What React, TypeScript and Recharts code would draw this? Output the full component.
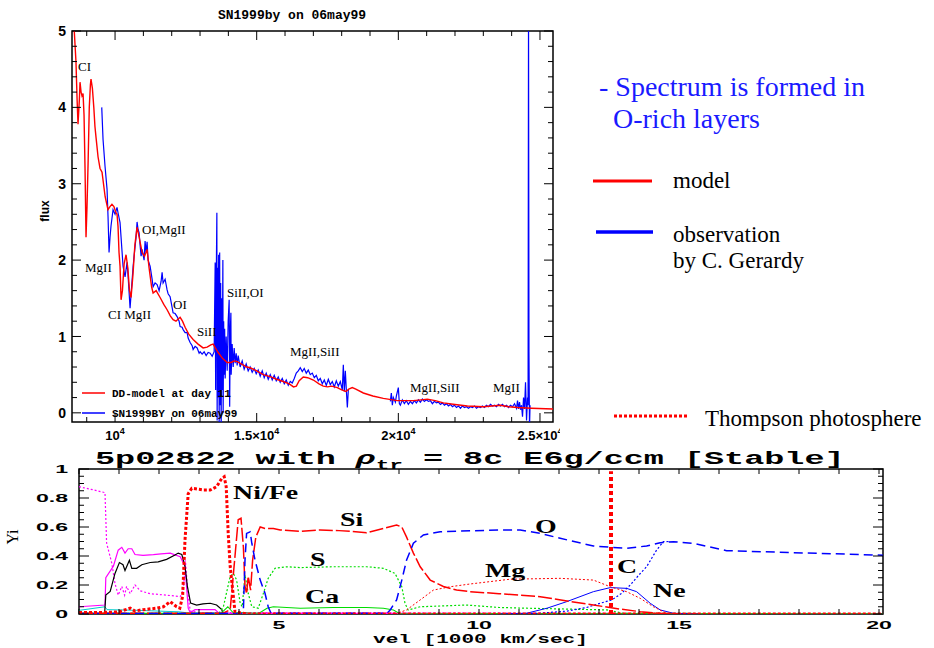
import React from "react";
import { LineChart, Line, XAxis, YAxis, ReferenceArea, ReferenceLine } from "recharts";

type Pt = [number, number];

// ---------- spectrum panel: wavelength [A] vs flux ----------
const WAVE_TICKS = [9000, 10000, 11000, 12000, 13000, 14000, 15000, 16000, 17000, 18000, 19000, 20000, 21000, 22000, 23000, 24000, 25000];
const WAVE_LABELS: Record<number, string> = { 10000: "10", 15000: "1.5×10", 20000: "2×10", 25000: "2.5×10" };
const FLUX_TICKS = [0, 0.2, 0.4, 0.6, 0.8, 1, 1.2, 1.4, 1.6, 1.8, 2, 2.2, 2.4, 2.6, 2.8, 3, 3.2, 3.4, 3.6, 3.8, 4, 4.2, 4.4, 4.6, 4.8, 5];
const FLUX_LABELS = [0, 1, 2, 3, 4, 5];
const WAVE_RANGE: Pt = [8480, 25460];
const FLUX_RANGE: Pt = [-0.12, 5];

// DD-model at day 11
const MODEL_SPEC: Pt[] = [
  [8480, 5.3], [8560, 5.0], [8620, 4.6], [8660, 4.1], [8692, 3.78], [8740, 4.1], [8763, 4.33], [8800, 4.2],
  [8833, 4.15], [8870, 4.18], [8905, 3.9], [8940, 3.2], [8975, 2.3], [9010, 2.7], [9050, 3.3], [9090, 4.0],
  [9130, 4.3], [9151, 4.37], [9200, 4.25], [9250, 4.0], [9290, 3.75], [9330, 3.6], [9400, 3.35], [9470, 3.2],
  [9540, 3.15], [9650, 2.83], [9750, 2.66], [9820, 2.7], [9890, 2.73], [9960, 2.7], [10030, 2.62], [10070, 2.6],
  [10105, 2.44], [10140, 2.1], [10176, 1.92], [10212, 1.48], [10260, 1.6], [10320, 1.95], [10388, 2.07], [10450, 1.9],
  [10510, 1.6], [10565, 1.51], [10630, 1.8], [10700, 2.2], [10777, 2.43], [10850, 2.3], [10954, 2.1], [11040, 2.05],
  [11131, 2.14], [11200, 1.9], [11290, 1.65], [11343, 1.57], [11450, 1.6], [11590, 1.51], [11720, 1.42], [11837, 1.35],
  [11950, 1.27], [12049, 1.22], [12150, 1.2], [12230, 1.23], [12297, 1.25], [12380, 1.2], [12473, 1.12], [12600, 1.03],
  [12756, 0.96], [12930, 0.9], [13109, 0.85], [13250, 0.86], [13380, 0.89], [13463, 0.9], [13540, 0.85], [13640, 0.79],
  [13800, 0.71], [13958, 0.66], [14100, 0.66], [14200, 0.68], [14311, 0.67], [14500, 0.63], [14650, 0.6], [14771, 0.59],
  [15000, 0.55], [15230, 0.5], [15500, 0.47], [15700, 0.44], [15937, 0.41], [16150, 0.38], [16300, 0.34], [16400, 0.35],
  [16500, 0.42], [16644, 0.47], [16800, 0.46], [17000, 0.43], [17200, 0.38], [17350, 0.35], [17500, 0.34], [17650, 0.35],
  [17845, 0.33], [18000, 0.3], [18150, 0.28], [18250, 0.31], [18375, 0.33], [18500, 0.31], [18764, 0.26], [19100, 0.22],
  [19470, 0.19], [19965, 0.16], [20300, 0.16], [20530, 0.16], [20800, 0.17], [21025, 0.18], [21300, 0.16], [21590, 0.13],
  [22000, 0.11], [22440, 0.09], [23000, 0.08], [23300, 0.09], [23600, 0.1], [23900, 0.08], [24210, 0.07], [24700, 0.06],
  [25460, 0.05],
];

// SN1999BY, J band / H band pieces (gap in the telluric window)
const OBS_J: Pt[] = [
  [9530, 4.0], [9576, 3.58], [9646, 3.23], [9717, 2.93], [9752, 2.57], [9788, 2.1], [9823, 2.3], [9858, 2.45],
  [9929, 2.66], [10000, 2.6], [10070, 2.69], [10105, 2.62], [10176, 2.49], [10212, 2.3], [10282, 1.92], [10353, 1.78],
  [10424, 1.97], [10459, 1.8], [10530, 1.37], [10565, 1.55], [10636, 1.91], [10671, 2.05], [10742, 2.3], [10777, 2.5],
  [10813, 2.4], [10848, 2.36], [10883, 2.2], [10919, 2.05], [10954, 2.14], [11025, 2.0], [11060, 2.25], [11096, 2.1],
  [11131, 2.24], [11166, 2.0], [11237, 1.92], [11308, 1.75], [11343, 1.65], [11413, 1.7], [11484, 1.68], [11555, 1.6],
  [11625, 1.72], [11661, 1.84], [11696, 1.7], [11767, 1.75], [11837, 1.61], [11873, 1.56], [11943, 1.52], [12014, 1.38],
  [12049, 1.31], [12120, 1.3], [12190, 1.26], [12261, 1.2], [12297, 1.13], [12367, 1.12], [12403, 1.09], [12473, 1.05],
  [12544, 1.05], [12580, 0.98], [12650, 0.92], [12721, 0.88], [12756, 0.83], [12827, 0.87], [12898, 0.85], [12968, 0.78],
  [13004, 0.8], [13074, 0.77], [13145, 0.8], [13216, 0.75], [13286, 0.79], [13357, 0.78], [13428, 0.74], [13498, 0.8],
  [13534, 1.97], [13551, 0.3], [13569, 1.6], [13594, 2.62], [13604, -0.1], [13622, 1.9], [13640, 0.2], [13657, 2.07],
  [13675, -0.15], [13693, 2.1], [13710, 0.1], [13728, 1.7], [13746, -0.2], [13763, 1.5], [13781, 0.3], [13806, 2.0],
  [13816, 0.0], [13834, 1.2], [13852, 0.5], [13869, 1.1], [13887, 0.45], [13922, 1.0], [13958, 0.55], [13993, 1.2],
  [14028, 1.48], [14046, 0.08], [14064, 1.0], [14089, 1.31], [14099, 0.5], [14134, 0.9], [14170, 0.6], [14205, 0.85],
  [14240, 0.65], [14276, 0.78], [14311, 0.62], [14346, 0.75], [14417, 0.6], [14488, 0.68], [14558, 0.57], [14629, 0.64],
  [14700, 0.55], [14771, 0.6], [14841, 0.53], [14912, 0.58], [14983, 0.51], [15053, 0.56], [15124, 0.48], [15195, 0.55],
  [15266, 0.46], [15336, 0.52], [15407, 0.44], [15478, 0.5], [15548, 0.43], [15619, 0.49], [15690, 0.42], [15760, 0.47],
  [15831, 0.4], [15902, 0.45], [15973, 0.38], [16043, 0.43], [16114, 0.36], [16185, 0.41], [16255, 0.39], [16326, 0.45],
  [16397, 0.52], [16467, 0.55], [16538, 0.59], [16609, 0.54], [16679, 0.58], [16750, 0.52], [16821, 0.56], [16891, 0.5],
  [16962, 0.52], [17033, 0.46], [17104, 0.49], [17174, 0.42], [17245, 0.45], [17316, 0.38], [17386, 0.43], [17457, 0.36],
  [17528, 0.44], [17598, 0.37], [17669, 0.41], [17740, 0.34], [17810, 0.42], [17881, 0.35], [17952, 0.41], [18022, 0.3],
  [18058, 0.63], [18093, 0.28], [18129, 0.55], [18164, 0.3], [18200, 0.07], [18235, 0.3],
];

const OBS_H: Pt[] = [
  [19718, 0.15], [19753, 0.26], [19789, 0.1], [19824, 0.2], [19895, 0.14], [19930, 0.22], [20000, 0.33], [20036, 0.12],
  [20071, 0.1], [20142, 0.17], [20213, 0.12], [20283, 0.16], [20354, 0.11], [20425, 0.15], [20496, 0.12], [20566, 0.16],
  [20637, 0.13], [20708, 0.17], [20778, 0.14], [20849, 0.18], [20920, 0.15], [20991, 0.17], [21061, 0.15], [21132, 0.16],
  [21203, 0.12], [21273, 0.15], [21344, 0.13], [21415, 0.14], [21486, 0.11], [21556, 0.13], [21627, 0.1], [21698, 0.12],
  [21768, 0.09], [21839, 0.11], [21910, 0.08], [21981, 0.1], [22051, 0.07], [22122, 0.09], [22193, 0.06], [22263, 0.09],
  [22334, 0.07], [22405, 0.08], [22476, 0.06], [22546, 0.08], [22617, 0.07], [22688, 0.09], [22758, 0.06], [22829, 0.08],
  [22900, 0.07], [22970, 0.09], [23041, 0.07], [23112, 0.1], [23183, 0.08], [23253, 0.11], [23324, 0.09], [23395, 0.1],
  [23465, 0.08], [23536, 0.11], [23607, 0.09], [23677, 0.11], [23748, 0.08], [23819, 0.1], [23889, 0.07], [23960, 0.1],
  [24031, 0.08], [24102, 0.12], [24172, 0.06], [24208, 0.16], [24243, 0.05], [24278, 0.14], [24314, 0.04], [24349, 0.1],
  [24384, -0.05], [24420, 0.2], [24455, 0.05], [24490, 0.4], [24526, -0.1], [24561, 0.2], [24580, 0.1], [24596, 5.3],
  [24612, 0.8], [24630, -0.2], [24650, 0.1],
];

// ---------- abundance panel: velocity [1000 km/s] vs mass fraction ----------
const VEL_TICKS = [0, 1, 2, 3, 4, 5, 6, 7, 8, 9, 10, 11, 12, 13, 14, 15, 16, 17, 18, 19, 20];
const VEL_LABELS = [5, 10, 15, 20];
const YI_TICKS = [0, 0.05, 0.1, 0.15, 0.2, 0.25, 0.3, 0.35, 0.4, 0.45, 0.5, 0.55, 0.6, 0.65, 0.7, 0.75, 0.8, 0.85, 0.9, 0.95, 1];
const YI_LABELS = [0, 0.2, 0.4, 0.6, 0.8, 1];
const VEL_RANGE: Pt = [0, 20.1];
const PHOTOSPHERE_VEL = 13.3;

const NI_FE: Pt[] = [
  [0, 0.01], [0.6, 0.01], [1.0, 0.015], [1.28, 0.04], [1.4, 0.02], [1.6, 0.03], [1.94, 0.04], [2.11, 0.05],
  [2.28, 0.085], [2.44, 0.05], [2.52, 0.04], [2.59, 0.12], [2.65, 0.51], [2.73, 0.83], [2.82, 0.867], [3.0, 0.86],
  [3.11, 0.855], [3.28, 0.855], [3.44, 0.878], [3.57, 0.936], [3.63, 0.947], [3.68, 0.878], [3.73, 0.556], [3.78, 0.326],
  [3.86, 0.12], [3.9, 0.015], [4.2, 0], [20.1, 0],
];
const SI: Pt[] = [
  [0, 0.005], [3.6, 0.005], [3.78, 0.03], [3.9, 0.4], [3.98, 0.65], [4.05, 0.66], [4.11, 0.46], [4.15, 0.19],
  [4.19, 0.14], [4.23, 0.26], [4.29, 0.165], [4.34, 0.37], [4.42, 0.53], [4.53, 0.6], [4.65, 0.59], [4.86, 0.59],
  [5.03, 0.58], [5.53, 0.57], [6.03, 0.58], [6.5, 0.575], [6.78, 0.57], [7.19, 0.56], [7.61, 0.59], [7.94, 0.614],
  [8.07, 0.6], [8.19, 0.53], [8.36, 0.42], [8.53, 0.326], [8.78, 0.234], [9.11, 0.19], [9.44, 0.165], [9.78, 0.154],
  [10.5, 0.14], [11.53, 0.119], [12.2, 0.09], [12.86, 0.062], [13.5, 0.035], [14.03, 0.016], [14.53, 0.005], [15, 0],
];
const S: Pt[] = [
  [0, 0.005], [3.5, 0.005], [3.61, 0.05], [3.78, 0.26], [3.86, 0.28], [3.94, 0.234], [4.03, 0.074], [4.08, 0.05],
  [4.15, 0.27], [4.23, 0.143], [4.32, 0.05], [4.48, 0.04], [4.61, 0.143], [4.73, 0.246], [4.9, 0.315], [5.19, 0.326],
  [5.53, 0.32], [6.36, 0.326], [7.19, 0.326], [7.61, 0.315], [7.9, 0.28], [8.07, 0.188], [8.15, 0.074], [8.23, 0.028],
  [8.53, 0.05], [9.69, 0.062], [10.5, 0.045], [11.19, 0.04], [13.2, 0.028], [13.6, 0.005], [20.1, 0],
];
const CA: Pt[] = [
  [0, 0.005], [3.55, 0.005], [3.72, 0.05], [3.85, 0.01], [4.5, 0.005], [4.7, 0.04], [4.86, 0.05], [5.53, 0.04],
  [6.36, 0.045], [7.19, 0.045], [7.61, 0.04], [7.86, 0.028], [8.0, 0.005], [20.1, 0],
];
const O: Pt[] = [
  [0, 0.003], [4.05, 0.003], [4.11, 0.028], [4.15, 0.372], [4.19, 0.556], [4.28, 0.567], [4.32, 0.488], [4.4, 0.372],
  [4.53, 0.234], [4.65, 0.143], [4.73, 0.05], [4.8, 0.005], [7.7, 0.005], [7.78, 0.028], [7.94, 0.097], [8.07, 0.234],
  [8.19, 0.372], [8.36, 0.488], [8.61, 0.545], [9.03, 0.567], [9.78, 0.574], [10.5, 0.579], [11.03, 0.579], [11.53, 0.556],
  [12.03, 0.522], [12.86, 0.469], [13.69, 0.453], [14.19, 0.469], [14.53, 0.492], [14.86, 0.499], [15.36, 0.487], [16.19, 0.437],
  [17.86, 0.423], [19.94, 0.407], [20.1, 0.406],
];
const MG: Pt[] = [
  [7.9, 0], [8.19, 0.028], [8.53, 0.097], [8.86, 0.165], [9.28, 0.188], [9.78, 0.207], [10.78, 0.24], [12.03, 0.246],
  [12.86, 0.234], [13.28, 0.188], [13.69, 0.154], [14.03, 0.108], [14.36, 0.05], [14.69, 0.005], [15.5, 0],
];
const C: Pt[] = [
  [10.5, 0], [11.5, 0.005], [12.2, 0.02], [12.69, 0.045], [13.03, 0.074], [13.32, 0.097], [13.55, 0.14], [13.78, 0.2],
  [14.0, 0.27], [14.19, 0.326], [14.44, 0.441], [14.61, 0.499], [14.75, 0.5],
];
const NE: Pt[] = [
  [10.5, 0], [11.19, 0.005], [11.7, 0.04], [12.19, 0.085], [12.86, 0.154], [13.28, 0.182], [13.69, 0.177], [13.94, 0.154],
  [14.28, 0.074], [14.53, 0.028], [14.86, 0.005], [15.5, 0],
];
const PINK_SOLID: Pt[] = [
  [0, 0.05], [0.65, 0.062], [0.67, 0.25], [0.86, 0.33], [0.98, 0.44], [1.07, 0.46], [1.15, 0.42], [1.23, 0.45],
  [1.32, 0.45], [1.4, 0.41], [1.6, 0.405], [1.86, 0.41], [2.05, 0.415], [2.28, 0.42], [2.53, 0.395], [2.65, 0.33],
  [2.73, 0.04], [2.78, 0.01], [2.9, 0.03], [3.4, 0.03], [3.5, 0.005], [20.1, 0],
];
const PINK_DOTTED: Pt[] = [
  [0, 0.878], [0.3, 0.86], [0.65, 0.837], [0.69, 0.49], [0.82, 0.35], [0.9, 0.21], [0.98, 0.13], [1.07, 0.19],
  [1.14, 0.13], [1.19, 0.19], [1.28, 0.14], [1.4, 0.2], [1.53, 0.16], [1.78, 0.14], [2.19, 0.13], [2.53, 0.12],
  [2.61, 0.165], [2.66, 0.37], [2.72, 0.15], [2.78, 0.02], [3.0, 0.01], [20.1, 0],
];
const BLACK_SOLID: Pt[] = [
  [0.64, 0], [0.67, 0.13], [0.78, 0.155], [0.9, 0.28], [1.01, 0.355], [1.1, 0.34], [1.15, 0.3], [1.26, 0.37],
  [1.32, 0.315], [1.44, 0.315], [1.57, 0.34], [1.78, 0.355], [1.98, 0.36], [2.19, 0.377], [2.4, 0.407], [2.48, 0.42],
  [2.57, 0.41], [2.65, 0.33], [2.71, 0.19], [2.79, 0.075], [2.94, 0.062], [3.1, 0.07], [3.28, 0.074], [3.44, 0.062],
  [3.57, 0.03], [3.6, 0],
];
const CYAN_SOLID: Pt[] = [
  [0, 0.025], [0.65, 0.05], [0.7, 0.03], [1.5, 0.025], [2.5, 0.015], [2.8, 0.005], [3.7, 0.01], [3.8, 0],
];

const pts = (a: Pt[]) => a.map(([x, y]) => ({ x, y }));

const RED = "#ff0000";
const BLUE = "#0000ff";
const GREEN = "#00dd00";
const MAGENTA = "#ff00ff";
const SANS = "Liberation Sans, Arial, sans-serif";
const SERIF = "Liberation Serif, Times New Roman, serif";
const MONO = "Liberation Mono, Courier New, monospace";

// plot boxes (chart-local pixels)
const SP = { left: 72, right: 553, top: 31, bottom: 422 };
const BP = { left: 79, right: 883, top: 29, bottom: 174 };

function WaveTick(props: any) {
  const { x, payload } = props;
  const lab = WAVE_LABELS[payload.value];
  const len = lab ? 9 : 5;
  return (
    <g>
      <line x1={x} x2={x} y1={SP.bottom} y2={SP.bottom - len} stroke="#000" />
      <line x1={x} x2={x} y1={SP.top} y2={SP.top + len} stroke="#000" />
      {lab && (
        <text x={x} y={440} textAnchor="middle" fontFamily={SANS} fontWeight="bold" fontSize={13} fill="#000">
          {lab}
          <tspan dy={-6} fontSize={9}>4</tspan>
        </text>
      )}
    </g>
  );
}

function FluxTick(props: any) {
  const { y, payload } = props;
  const v = payload.value;
  const major = FLUX_LABELS.includes(v);
  const len = major ? 9 : 5;
  return (
    <g>
      <line x1={SP.left} x2={SP.left + len} y1={y} y2={y} stroke="#000" />
      <line x1={SP.right - len} x2={SP.right} y1={y} y2={y} stroke="#000" />
      {major && (
        <text x={66} y={y} dy="0.36em" textAnchor="end" fontFamily={SANS} fontWeight="bold" fontSize={14} fill="#000">
          {v}
        </text>
      )}
    </g>
  );
}

function VelTick(props: any) {
  const { x, payload } = props;
  const v = payload.value;
  const lab = VEL_LABELS.includes(v);
  return (
    <g>
      <line x1={x} x2={x} y1={BP.bottom} y2={BP.bottom - 5} stroke="#000" />
      <line x1={x} x2={x} y1={BP.top} y2={BP.top + 5} stroke="#000" />
      {lab && (
        <text transform={`translate(${x} 189) scale(2.1 1)`} textAnchor="middle" fontFamily={SANS} fontWeight="bold" fontSize={11} fill="#000">
          {v}
        </text>
      )}
    </g>
  );
}

function YiTick(props: any) {
  const { y, payload } = props;
  const v = payload.value;
  const major = YI_LABELS.includes(v);
  const len = major ? 10 : 5;
  return (
    <g>
      <line x1={BP.left} x2={BP.left + len} y1={y} y2={y} stroke="#000" />
      <line x1={BP.right - len} x2={BP.right} y1={y} y2={y} stroke="#000" />
      {major && (
        <text transform={`translate(68 ${y}) scale(2.1 1)`} dy="0.36em" textAnchor="end" fontFamily={SANS} fontWeight="bold" fontSize={11} fill="#000">
          {v}
        </text>
      )}
    </g>
  );
}

const lineBase = { dataKey: "y", dot: false, activeDot: false, isAnimationActive: false, type: "linear" as const };

function SpectrumPanel() {
  return (
    <LineChart width={600} height={445} margin={{ top: SP.top, right: 47, bottom: 0, left: 50 }}>
      <XAxis type="number" dataKey="x" domain={WAVE_RANGE} ticks={WAVE_TICKS} interval={0} allowDataOverflow
        height={23} axisLine={false} tickLine={false} tick={WaveTick} />
      <YAxis type="number" domain={FLUX_RANGE} ticks={FLUX_TICKS} interval={0} allowDataOverflow
        width={22} axisLine={false} tickLine={false} tick={FluxTick} />
      <Line {...lineBase} data={pts(OBS_J)} stroke={BLUE} strokeWidth={1.2} />
      <Line {...lineBase} data={pts(OBS_H)} stroke={BLUE} strokeWidth={1.2} />
      <Line {...lineBase} data={pts(MODEL_SPEC)} stroke={RED} strokeWidth={1.4} />
      <ReferenceArea x1={WAVE_RANGE[0]} x2={WAVE_RANGE[1]} y1={FLUX_RANGE[0]} y2={FLUX_RANGE[1]}
        fill="none" stroke="#000" strokeWidth={1.5} fillOpacity={0} />
    </LineChart>
  );
}

function AbundancePanel() {
  return (
    <LineChart width={934} height={208} margin={{ top: BP.top, right: 934 - BP.right, bottom: 0, left: 55 }}>
      <XAxis type="number" dataKey="x" domain={VEL_RANGE} ticks={VEL_TICKS} interval={0} allowDataOverflow
        height={34} axisLine={false} tickLine={false} tick={VelTick} />
      <YAxis type="number" domain={[0, 1]} ticks={YI_TICKS} interval={0} allowDataOverflow
        width={24} axisLine={false} tickLine={false} tick={YiTick} />
      <Line {...lineBase} data={pts(CYAN_SOLID)} stroke="#00cccc" strokeWidth={1} />
      <Line {...lineBase} data={pts(PINK_DOTTED)} stroke={MAGENTA} strokeWidth={1.2} strokeDasharray="2 2" />
      <Line {...lineBase} data={pts(PINK_SOLID)} stroke={MAGENTA} strokeWidth={1.2} />
      <Line {...lineBase} data={pts(BLACK_SOLID)} stroke="#000" strokeWidth={1.2} />
      <Line {...lineBase} data={pts(CA)} stroke={GREEN} strokeWidth={1.1} />
      <Line {...lineBase} data={pts(S)} stroke={GREEN} strokeWidth={1.2} strokeDasharray="2 2" />
      <Line {...lineBase} data={pts(NE)} stroke={BLUE} strokeWidth={1} />
      <Line {...lineBase} data={pts(C)} stroke={BLUE} strokeWidth={1.2} strokeDasharray="2 2" />
      <Line {...lineBase} data={pts(MG)} stroke={RED} strokeWidth={1} strokeDasharray="2 2" />
      <Line {...lineBase} data={pts(SI)} stroke={RED} strokeWidth={1.5} strokeDasharray="14 3" />
      <Line {...lineBase} data={pts(O)} stroke={BLUE} strokeWidth={1.5} strokeDasharray="9 5" />
      <Line {...lineBase} data={pts(NI_FE)} stroke={RED} strokeWidth={3} strokeDasharray="3 2" />
      <ReferenceLine segment={[{ x: PHOTOSPHERE_VEL, y: 0 }, { x: PHOTOSPHERE_VEL, y: 0.985 }]}
        stroke={RED} strokeWidth={4} strokeDasharray="4 3" />
      <ReferenceArea x1={VEL_RANGE[0]} x2={VEL_RANGE[1]} y1={0} y2={1}
        fill="none" stroke="#000" strokeWidth={1.5} fillOpacity={0} />
    </LineChart>
  );
}

// line identifications on the spectrum
const SPEC_IDS: { t: string; x: number; y: number }[] = [
  { t: "CI", x: 78, y: 71 },
  { t: "MgII", x: 85, y: 272 },
  { t: "OI,MgII", x: 142, y: 234 },
  { t: "CI MgII", x: 108, y: 319 },
  { t: "OI", x: 173, y: 309 },
  { t: "SiII", x: 197, y: 336 },
  { t: "SiII,OI", x: 227, y: 297 },
  { t: "MgII,SiII", x: 290, y: 356 },
  { t: "MgII,SiII", x: 410, y: 392 },
  { t: "MgII", x: 493, y: 392 },
];

// element names on the abundance panel
const ELEMENT_TAGS: { t: string; x: number; y: number }[] = [
  { t: "Ni/Fe", x: 233, y: 499 },
  { t: "Si", x: 340, y: 526 },
  { t: "S", x: 310, y: 566 },
  { t: "Ca", x: 305, y: 603 },
  { t: "O", x: 535, y: 533 },
  { t: "Mg", x: 485, y: 577 },
  { t: "C", x: 617, y: 573 },
  { t: "Ne", x: 653, y: 597 },
];

export default function App() {
  return (
    <div style={{ position: "absolute", left: 0, top: 0, width: 934, height: 648, background: "#fff", overflow: "hidden" }}>
      <div style={{ position: "absolute", left: 0, top: 0, width: 560, height: 445, overflow: "hidden" }}>
        <SpectrumPanel />
      </div>
      <div style={{ position: "absolute", left: 0, top: 440 }}>
        <AbundancePanel />
      </div>
      <svg width={934} height={648} style={{ position: "absolute", left: 0, top: 0, pointerEvents: "none" }}>
        {/* spectrum panel decorations */}
        <text x={292} y={19} textAnchor="middle" fontFamily={MONO} fontWeight="bold" fontSize={13}>SN1999by on 06may99</text>
        <text transform="translate(49 211) rotate(-90)" textAnchor="middle" fontFamily={SANS} fontWeight="bold" fontSize={12}>flux</text>
        {SPEC_IDS.map((d, i) => (
          <text key={i} x={d.x} y={d.y} fontFamily={SERIF} fontSize={13}>{d.t}</text>
        ))}
        <line x1={82} x2={105} y1={393} y2={393} stroke={RED} strokeWidth={1.5} />
        <text x={112} y={397} fontFamily={MONO} fontWeight="bold" fontSize={11}>DD-model at day 11</text>
        <line x1={82} x2={105} y1={413} y2={413} stroke={BLUE} strokeWidth={1.5} />
        <text x={112} y={417} fontFamily={MONO} fontWeight="bold" fontSize={11}>SN1999BY on 06may99</text>

        {/* notes and key on the right */}
        <text x={599} y={96} fontFamily={SERIF} fontSize={28} fill="#1a1aff">- Spectrum is formed in</text>
        <text x={613} y={128} fontFamily={SERIF} fontSize={28} fill="#1a1aff">O-rich layers</text>
        <line x1={593} x2={652} y1={181} y2={181} stroke={RED} strokeWidth={3} />
        <text x={673} y={188} fontFamily={SERIF} fontSize={23}>model</text>
        <line x1={596} x2={653} y1={232} y2={232} stroke={BLUE} strokeWidth={3.5} />
        <text x={673} y={242} fontFamily={SERIF} fontSize={23}>observation</text>
        <text x={673} y={268} fontFamily={SERIF} fontSize={23}>by C. Gerardy</text>
        <line x1={614} x2={688} y1={416} y2={416} stroke={RED} strokeWidth={3} strokeDasharray="3 2" />
        <text x={705} y={426} fontFamily={SERIF} fontSize={23}>Thompson photosphere</text>

        {/* abundance panel decorations */}
        <text transform="translate(95 464) scale(1.86 1)" fontFamily={MONO} fontWeight="bold" fontSize={18}>
          {"5p02822 with "}
          <tspan fontStyle="italic">ρ</tspan>
          <tspan fontSize={12} dy={5}>tr</tspan>
          <tspan dy={-5}>{" = 8c E6g/ccm [Stable]"}</tspan>
        </text>
        <text transform="translate(18 537) rotate(-90)" textAnchor="middle" fontFamily={SERIF} fontSize={16}>Yi</text>
        <text transform="translate(373 643) scale(1.62 1)" fontFamily={MONO} fontWeight="bold" fontSize={13}>vel [1000 km/sec]</text>
        {ELEMENT_TAGS.map((d, i) => (
          <text key={i} transform={`translate(${d.x} ${d.y}) scale(1.55 1)`} fontFamily={SERIF} fontWeight="bold" fontSize={18}>{d.t}</text>
        ))}
      </svg>
    </div>
  );
}
